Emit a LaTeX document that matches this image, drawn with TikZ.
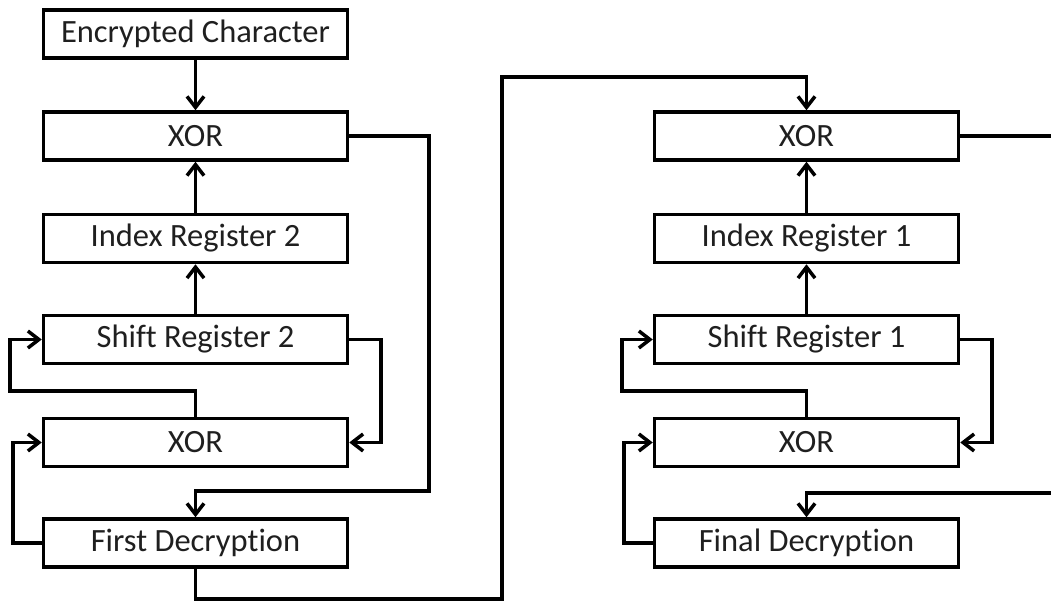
\documentclass[tikz,border=0pt]{standalone}
\usepackage{fontspec}
\setmainfont[Ligatures=NoCommon]{Carlito}
\usetikzlibrary{arrows.meta}
\tikzset{
  blk/.style={draw=black, line width=3.5pt, minimum width=304pt, minimum height=48pt, inner sep=0pt, font=\fontsize{32.5}{38}\selectfont, text=black!88},
  conn/.style={line width=3.5pt, -{Straight Barb[length=11pt,width=17pt,line width=3.5pt]}},
  wire/.style={line width=3.5pt}
}
\begin{document}
\begin{tikzpicture}[x=1pt,y=-1pt]
\useasboundingbox (0,0) rectangle (1051,602);
\clip (0,0) rectangle (1051,602);
% left column
\node[blk] (enc) at (195.5,34) {Encrypted Character};
\node[blk] (xa) at (195.5,136) {XOR};
\node[blk] (ia) at (195.5,238.5) {Index Register 2};
\node[blk] (sa) at (195.5,339.5) {Shift Register 2};
\node[blk] (xb) at (195.5,442.5) {XOR};
\node[blk] (da) at (195.5,543) {First Decryption};
% right column
\node[blk] (xc) at (806.5,136) {XOR};
\node[blk] (ib) at (806.5,238.5) {Index Register 1};
\node[blk] (sb) at (806.5,339.5) {Shift Register 1};
\node[blk] (xd) at (806.5,442.5) {XOR};
\node[blk] (db) at (806.5,543) {Final Decryption};
% free corner points
\coordinate (c1) at (429,0);
\coordinate (c2) at (0,491);
\coordinate (c3) at (381,0);
\coordinate (c4) at (0,391);
\coordinate (c5) at (10,0);
\coordinate (c6) at (13,0);
\coordinate (c7) at (0,599);
\coordinate (c8) at (502,0);
\coordinate (c9) at (0,77);
\coordinate (c10) at (1060,0);
\coordinate (c11) at (0,493);
\coordinate (c12) at (992,0);
\coordinate (c13) at (622,0);
\coordinate (c14) at (624,0);
% left connectors
\draw[conn] (enc.south) -- (xa.north);
\draw[conn] (ia.north) -- (xa.south);
\draw[conn] (sa.north) -- (ia.south);
\draw[conn] (xa.east) -| (c1 |- c2) -| (da.north);
\draw[conn] (sa.east) -| (c3 |- xb.east) -- (xb.east);
\draw[conn] (xb.north) |- (c5 |- c4) |- (sa.west);
\draw[conn] (da.west) -| (c6 |- xb.west) -- (xb.west);
% bridge
\draw[conn] (da.south) |- (c8 |- c7) |- (xc.north |- c9) -- (xc.north);
% right connectors
\draw[conn] (ib.north) -- (xc.south);
\draw[conn] (sb.north) -- (ib.south);
\draw[conn] (xc.east) -| (c10 |- c11) -| (db.north);
\draw[conn] (sb.east) -| (c12 |- xd.east) -- (xd.east);
\draw[conn] (xd.north) |- (c13 |- c4) |- (sb.west);
\draw[conn] (db.west) -| (c14 |- xd.west) -- (xd.west);
\end{tikzpicture}
\end{document}
